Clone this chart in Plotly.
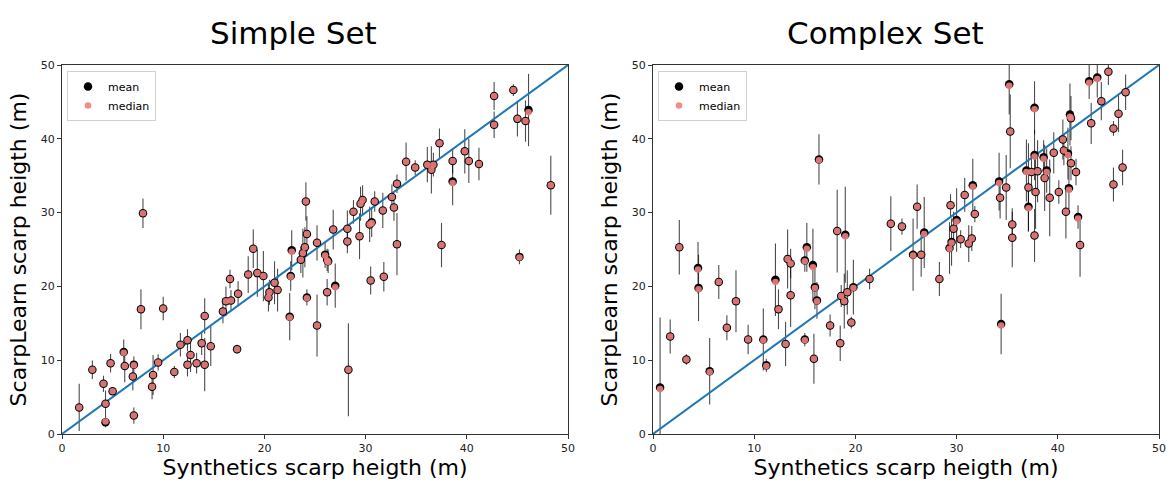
import plotly.graph_objects as go

# ---------------- Simple Set ----------------
simple_x = [1.7, 3.0, 4.1, 4.3, 4.3, 4.8, 5.0, 6.1, 6.2, 7.1, 7.0, 7.1, 8.0, 7.8, 8.9, 9.0, 9.5, 10.0,
            11.1, 11.7, 12.4, 12.4, 12.7, 13.3, 13.8, 14.1, 14.1, 14.7, 15.9, 16.2, 16.6, 16.7, 17.3, 17.4,
            18.4, 18.9, 19.3, 19.9, 20.4, 20.5, 21.0, 21.3, 22.5, 22.7, 22.6, 23.6, 23.8, 24.0, 24.1, 24.2,
            24.2, 25.2, 25.2, 26.0, 26.2, 26.3, 26.2, 27.0, 26.8, 28.2, 28.2, 28.3, 28.8, 29.4, 29.5, 29.7,
            30.4, 30.6, 30.5, 30.9, 31.7, 31.8, 32.6, 32.8, 33.1, 33.1, 34.0, 34.9, 36.1, 36.5, 36.7, 37.3,
            37.5, 38.6, 38.6, 39.8, 40.2, 41.2, 42.7, 42.7, 44.6, 45.0, 45.2, 45.8, 46.1, 48.3]
simple_mean = [3.6, 8.7, 6.8, 4.1, 1.6, 9.6, 5.8, 11.1, 9.2, 9.4, 7.8, 2.5, 29.9, 16.9, 6.4, 8.0, 9.7, 17.0,
               8.4, 12.1, 12.7, 9.4, 10.7, 9.6, 12.3, 16.0, 9.4, 11.9, 16.6, 18.0, 21.0, 18.1, 11.5, 19.0,
               21.6, 25.1, 21.8, 21.4, 18.5, 19.2, 20.5, 19.5, 15.9, 24.9, 21.4, 23.6, 24.5, 25.3, 31.5, 27.1,
               18.5, 25.9, 14.7, 24.3, 23.6, 23.4, 19.2, 20.1, 27.7, 27.8, 26.1, 8.7, 30.1, 26.8, 31.2, 31.7,
               28.4, 28.7, 20.8, 31.5, 30.3, 21.3, 32.1, 30.7, 33.9, 25.7, 36.9, 36.1, 36.5, 35.8, 36.5, 39.4,
               25.6, 37.0, 34.2, 38.3, 37.0, 36.6, 45.8, 41.9, 46.6, 42.7, 24.0, 42.4, 43.9, 33.7]
simple_median = [3.6, 8.7, 6.8, 4.1, 1.7, 9.6, 5.8, 11.0, 9.2, 9.3, 7.8, 2.5, 29.9, 16.9, 6.4, 8.0, 9.7, 17.0,
                 8.4, 12.1, 12.7, 9.4, 10.7, 9.6, 12.3, 16.0, 9.4, 11.9, 16.6, 18.0, 21.0, 18.1, 11.5, 19.0,
                 21.6, 25.1, 21.8, 21.4, 18.5, 19.2, 20.5, 19.5, 15.8, 24.7, 21.3, 23.6, 24.5, 25.3, 31.5, 27.1,
                 18.4, 25.9, 14.7, 24.2, 23.5, 23.3, 19.2, 19.9, 27.7, 27.8, 26.1, 8.7, 30.1, 26.8, 31.2, 31.7,
                 28.4, 28.6, 20.8, 31.5, 30.3, 21.3, 32.1, 30.7, 33.9, 25.7, 36.9, 36.1, 36.5, 35.8, 36.5, 39.4,
                 25.6, 37.0, 34.0, 38.3, 37.0, 36.6, 45.8, 41.9, 46.6, 42.7, 23.9, 42.4, 43.6, 33.7]
simple_err = [3.2, 1.25, 1.1, 1.8, 0.7, 1.25, 0.5, 1.7, 2.2, 1.1, 1.9, 1.1, 2.0, 2.7, 1.7, 2.7, 1.1, 1.6,
              0.8, 1.6, 1.5, 1.6, 2.3, 1.4, 1.6, 2.4, 3.6, 2.7, 1.6, 2.0, 1.25, 1.4, 0.6, 1.7,
              2.5, 2.6, 3.2, 3.4, 1.9, 1.7, 2.9, 2.9, 3.2, 2.7, 2.0, 1.8, 3.3, 2.7, 2.6, 2.4,
              1.1, 2.4, 4.2, 1.8, 1.5, 1.6, 1.8, 3.0, 2.7, 2.5, 1.6, 6.3, 1.6, 3.1, 2.3, 2.0,
              2.4, 2.0, 1.9, 1.4, 2.4, 2.0, 1.7, 1.8, 1.25, 4.2, 2.6, 1.0, 2.4, 3.2, 1.6, 2.0,
              3.0, 1.7, 3.2, 3.0, 3.0, 2.2, 1.9, 1.8, 0.8, 2.4, 1.0, 2.8, 4.9, 4.0]

# ---------------- Complex Set ----------------
complex_x = [0.7, 1.7, 2.6, 3.3, 4.45, 4.5, 5.6, 6.5, 7.3, 8.2, 9.4, 10.9, 11.2, 12.1, 12.4, 13.1, 13.3, 13.6,
             13.6, 15.0, 15.0, 15.2, 15.9, 15.8, 16.0, 16.2, 16.4, 17.5, 18.2, 18.5, 19.0, 18.9, 18.6, 19.2,
             19.6, 19.8, 21.4, 23.5, 24.6, 25.7, 26.1, 26.5, 26.8, 28.3, 29.3, 29.4, 29.5, 29.7, 30.0, 30.4,
             30.8, 31.2, 31.5, 31.6, 31.8, 34.2, 34.3, 34.4, 34.9, 35.2, 35.3, 35.5, 35.5, 36.9, 37.1, 37.1,
             37.4, 37.7, 37.7, 37.7, 37.8, 38.0, 38.6, 38.7, 38.9, 39.2, 39.6, 40.1, 40.5, 40.6, 40.8, 41.0,
             41.1, 41.2, 41.3, 41.3, 41.8, 42.0, 42.2, 43.1, 43.3, 43.9, 44.3, 45.0, 45.5, 45.5, 46.0, 46.4,
             46.7]
complex_mean = [6.3, 13.2, 25.3, 10.1, 22.5, 19.8, 8.5, 20.6, 14.4, 18.0, 12.8, 12.8, 9.3, 20.9, 16.9, 12.2, 23.7, 23.1,
                18.8, 12.8, 23.5, 25.3, 10.2, 22.9, 19.9, 18.1, 37.2, 14.7, 27.5, 12.3, 27.0, 18.0, 18.7, 19.2,
                15.1, 19.9, 21.0, 28.5, 28.1, 24.3, 30.8, 24.3, 27.3, 21.0, 25.2, 31.0, 26.0, 27.8, 29.0, 26.4,
                32.4, 25.8, 26.5, 33.7, 29.8, 34.2, 32.0, 14.9, 33.4, 47.4, 41.0, 28.4, 26.6, 35.7, 33.4, 30.8,
                35.5, 26.9, 44.2, 37.8, 32.8, 35.6, 37.5, 34.7, 35.7, 32.0, 38.1, 32.8, 39.9, 38.4, 30.1, 38.0,
                33.3, 43.3, 42.8, 36.7, 35.5, 29.4, 25.6, 47.8, 42.1, 48.3, 45.1, 49.1, 41.4, 33.8, 43.4, 36.1,
                46.3]
complex_median = [6.1, 13.2, 25.3, 10.1, 22.3, 19.6, 8.4, 20.6, 14.4, 18.0, 12.8, 12.7, 9.2, 20.6, 16.9, 12.2, 23.7, 23.1,
                  18.8, 12.7, 23.4, 25.1, 10.2, 22.6, 19.8, 18.0, 37.1, 14.7, 27.5, 12.3, 26.8, 18.0, 18.7, 19.2,
                  15.1, 19.8, 21.0, 28.5, 28.1, 24.2, 30.8, 24.3, 27.1, 21.0, 25.1, 31.0, 25.9, 27.8, 28.8, 26.4,
                  32.4, 25.8, 26.5, 33.5, 29.8, 34.0, 32.0, 14.7, 33.4, 47.2, 41.0, 28.4, 26.6, 35.5, 33.4, 30.6,
                  35.5, 26.9, 44.0, 37.6, 32.8, 35.6, 37.3, 34.7, 35.5, 32.0, 38.1, 32.8, 39.9, 38.4, 30.1, 37.8,
                  33.1, 43.0, 42.8, 36.7, 35.5, 29.2, 25.6, 47.6, 42.1, 48.1, 45.1, 49.1, 41.4, 33.8, 43.4, 36.1,
                  46.3]
complex_err = [9.5, 2.3, 3.7, 0.7, 3.5, 4.5, 4.5, 2.3, 1.7, 4.2, 2.0, 4.2, 0.9, 4.9, 2.7, 3.0, 4.0, 2.0,
               4.3, 0.9, 1.5, 3.3, 3.4, 4.9, 3.0, 2.5, 3.4, 1.5, 5.6, 2.4, 6.5, 3.7, 1.5, 3.0,
               0.8, 3.7, 1.4, 3.7, 1.1, 4.9, 3.0, 3.0, 4.8, 2.3, 3.5, 1.5, 3.2, 2.3, 4.3, 1.2,
               2.3, 2.5, 1.7, 3.6, 1.1, 3.9, 2.8, 4.1, 4.4, 4.1, 5.0, 1.7, 4.0, 4.2, 6.0, 3.3,
               2.0, 3.6, 3.6, 3.4, 5.0, 4.2, 2.3, 4.5, 3.0, 5.2, 2.8, 1.6, 2.7, 2.0, 3.6, 3.5,
               2.8, 4.2, 3.0, 2.3, 1.8, 1.6, 4.3, 2.4, 2.8, 2.7, 2.6, 1.8, 1.0, 2.3, 2.5, 2.4,
               2.4]

ident = [0, 50]
ticks = [0, 10, 20, 30, 40, 50]

W, H = 1167, 483
FONT = "DejaVu Sans"

fig = go.Figure()

panels = [
    ("x", "y", "legend", simple_x, simple_mean, simple_median, simple_err),
    ("x2", "y2", "legend2", complex_x, complex_mean, complex_median, complex_err),
]
for xa, ya, lg, xs, mean, med, err in panels:
    fig.add_trace(go.Scatter(
        x=xs, y=mean, mode="markers", xaxis=xa, yaxis=ya, showlegend=False,
        marker=dict(size=1, color="rgba(0,0,0,0)"),
        error_y=dict(type="data", array=err, visible=True, width=0,
                     thickness=1.1, color="rgba(0,0,0,0.7)"),
        hoverinfo="skip"))
    fig.add_trace(go.Scatter(
        x=ident, y=ident, mode="lines", xaxis=xa, yaxis=ya, showlegend=False,
        line=dict(color="#1f77b4", width=2)))
    fig.add_trace(go.Scatter(
        x=xs, y=mean, mode="markers", name="mean", xaxis=xa, yaxis=ya, legend=lg,
        marker=dict(size=8.5, color="black")))
    fig.add_trace(go.Scatter(
        x=xs, y=med, mode="markers", name="median", xaxis=xa, yaxis=ya, legend=lg,
        marker=dict(size=6.5, color="rgba(240,128,128,0.9)")))

axis_common = dict(range=[0, 50], tickvals=ticks, ticks="outside", ticklen=4, tickwidth=1,
                   tickcolor="#333333", showline=True, linecolor="#333333", linewidth=1, mirror=True,
                   showgrid=False, zeroline=False, automargin=False,
                   tickfont=dict(family=FONT, size=11, color="#222222"),
                   title_font=dict(family=FONT, size=22, color="black"))

yb, yt = (H - 434) / H, (H - 65) / H
fig.update_layout(
    width=W, height=H, margin=dict(l=0, r=0, t=0, b=0, autoexpand=False),
    paper_bgcolor="white", plot_bgcolor="white",
    font=dict(family=FONT, color="black"),
    xaxis=dict(domain=[62 / W, 568 / W], anchor="y",
               title=dict(text="Synthetics scarp heigth (m)", standoff=5), **axis_common),
    yaxis=dict(domain=[yb, yt], anchor="x",
               title=dict(text="ScarpLearn scarp heigth (m)", standoff=8), **axis_common),
    xaxis2=dict(domain=[653 / W, 1159 / W], anchor="y2",
                title=dict(text="Synthetics scarp heigth (m)", standoff=5), **axis_common),
    yaxis2=dict(domain=[yb, yt], anchor="x2",
                title=dict(text="ScarpLearn scarp heigth (m)", standoff=8), **axis_common),
    legend=dict(x=67 / W, y=1 - 71 / H, xanchor="left", yanchor="top",
                bordercolor="#d0d0d0", borderwidth=1, bgcolor="rgba(255,255,255,0.8)",
                font=dict(family=FONT, size=11), itemwidth=30, tracegroupgap=0),
    legend2=dict(x=658 / W, y=1 - 71 / H, xanchor="left", yanchor="top",
                 bordercolor="#d0d0d0", borderwidth=1, bgcolor="rgba(255,255,255,0.8)",
                 font=dict(family=FONT, size=11), itemwidth=30, tracegroupgap=0),
    annotations=[
        dict(text="Simple Set", x=293 / W, y=1 - 33 / H, xref="paper", yref="paper",
             showarrow=False, font=dict(family=FONT, size=31, color="black"),
             xanchor="center", yanchor="middle"),
        dict(text="Complex Set", x=885 / W, y=1 - 33 / H, xref="paper", yref="paper",
             showarrow=False, font=dict(family=FONT, size=31, color="black"),
             xanchor="center", yanchor="middle"),
    ],
)

fig.write_html("out.html", config={"displayModeBar": False},
               post_script="document.body.style.margin='0';document.body.style.padding='0';")
